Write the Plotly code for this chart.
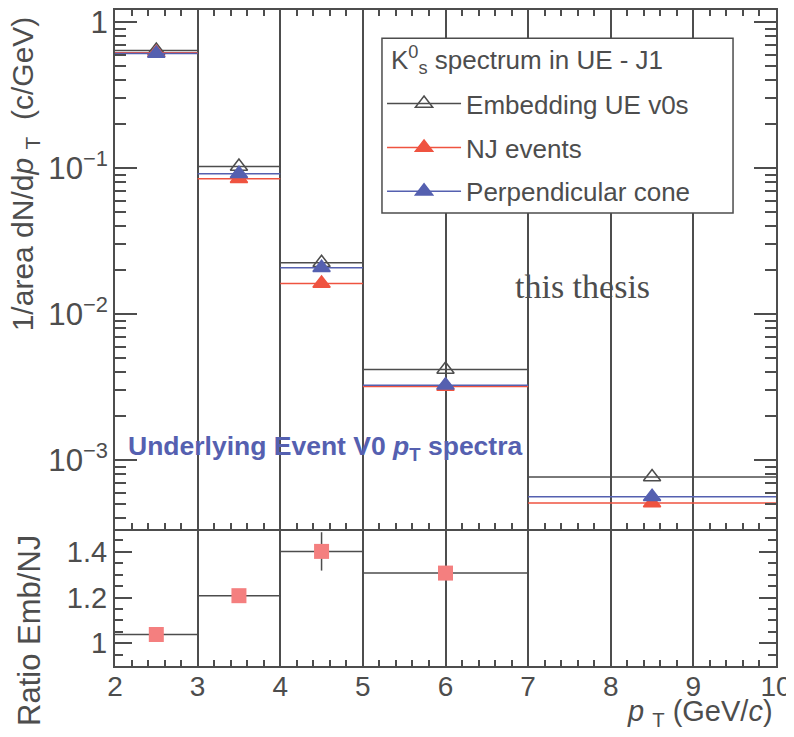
import plotly.graph_objects as go

# ---------------- data ----------------
bin_edges = [2, 3, 4, 5, 7, 10]
emb_ue_v0s = [0.64, 0.1027, 0.0225, 0.00418, 0.000766]
nj_events = [0.617, 0.0845, 0.0162, 0.00319, 0.000508]
perp_cone = [0.61, 0.0916, 0.0208, 0.00326, 0.000561]
ratio_emb_nj = [1.038, 1.208, 1.402, 1.307, None]   # last bin lies above the shown range
ratio_err = [0.01, 0.015, 0.084, 0.03, 0.0]
x_ticks = [2, 3, 4, 5, 6, 7, 8, 9, 10]
series_names = ["Embedding UE v0s", "NJ events", "Perpendicular cone"]
legend_header = "K<sup>0</sup><sub>s</sub> spectrum in UE - J1"

centers = [(a + b) / 2 for a, b in zip(bin_edges[:-1], bin_edges[1:])]
halfw = [(b - a) / 2 for a, b in zip(bin_edges[:-1], bin_edges[1:])]

AX = "#4d4d4d"
RED = "#ef5340"
BLUE = "#5560b0"
SALMON = "#f47f7f"
FONT = "Liberation Sans"

fig = go.Figure()

series = [
    (series_names[0], emb_ue_v0s, AX, "triangle-up-open"),
    (series_names[1], nj_events, RED, "triangle-up"),
    (series_names[2], perp_cone, BLUE, "triangle-up"),
]
for name, vals, col, sym in series:
    fig.add_trace(go.Scatter(
        x=centers, y=vals, mode="markers", showlegend=False,
        marker=dict(symbol=sym, size=15, color=col, line=dict(color=col, width=1.5)),
        error_x=dict(type="data", array=halfw, color=col, thickness=1.5, width=0),
        xaxis="x", yaxis="y"))
for i, (name, vals, col, sym) in enumerate(series):
    fig.add_trace(go.Scatter(
        x=[None], y=[None], mode="lines+markers", name=name, legendgroup=str(i),
        marker=dict(symbol=sym, size=15, color=col, line=dict(color=col, width=1.5)),
        line=dict(color=col, width=1.5), xaxis="x", yaxis="y"))

fig.add_trace(go.Scatter(
    x=centers, y=ratio_emb_nj, mode="markers", showlegend=False,
    marker=dict(symbol="square", size=15, color=SALMON),
    error_x=dict(type="data", array=halfw, color=AX, thickness=1.5, width=0),
    error_y=dict(type="data", array=ratio_err, color=AX, thickness=1.5, width=0),
    xaxis="x2", yaxis="y2"))

split = 0.2088
common_x = dict(range=[2, 10], tickvals=x_ticks, ticks="inside", ticklen=10, tickwidth=1.5,
                tickcolor=AX, showline=True, linecolor=AX, linewidth=2, automargin=False,
                showgrid=True, gridcolor=AX, gridwidth=1.5, zeroline=False,
                minor=dict(ticks="inside", ticklen=6, dtick=0.2, tickcolor=AX, tickwidth=1.5,
                           showgrid=False))

fig.update_layout(
    width=786, height=720,
    margin=dict(l=107, r=18, t=2, b=62),
    paper_bgcolor="white", plot_bgcolor="white",
    font=dict(family=FONT, color=AX),
    xaxis=dict(**common_x, anchor="y", domain=[0, 1], showticklabels=False, mirror="ticks"),
    yaxis=dict(type="log", range=[-3.472, 0.083], domain=[split, 1], anchor="x",
               dtick=1, exponentformat="power", ticks="inside", ticklen=22, tickwidth=1.5,
               tickcolor=AX, showline=True, linecolor=AX, linewidth=2, mirror="ticks",
               showgrid=False, zeroline=False, tickfont=dict(size=25, color=AX),
               automargin=False, ticklabeloverflow="allow",
               minor=dict(ticks="inside", ticklen=11, dtick="D1", tickcolor=AX, tickwidth=1.5)),
    xaxis2=dict(**common_x, anchor="y2", domain=[0, 1], mirror=False,
                ticklabelposition="outside", ticklabelstandoff=-6,
                ticklabeloverflow="allow", tickfont=dict(size=28, color=AX)),
    yaxis2=dict(range=[0.9, 1.5], domain=[0, split], anchor="x2", tick0=0, dtick=0.2,
                ticks="inside", ticklen=17, tickwidth=1.5, tickcolor=AX, showline=True,
                linecolor=AX, linewidth=2, mirror="ticks", showgrid=False, zeroline=False,
                tickfont=dict(size=29, color=AX), automargin=False, ticklabeloverflow="allow",
                minor=dict(ticks="inside", ticklen=8, dtick=0.05, tick0=0, tickcolor=AX,
                           tickwidth=1.5)),
    legend=dict(x=0.404, y=0.893, xanchor="left", yanchor="top", bgcolor="rgba(0,0,0,0)",
                borderwidth=0, itemwidth=74, tracegroupgap=7,
                font=dict(family=FONT, size=26, color=AX)),
    shapes=[
        dict(type="rect", xref="paper", yref="paper", x0=0.4039, x1=0.935, y0=0.6905,
             y1=0.957, line=dict(color=AX, width=1.5), fillcolor="white", layer="above"),
    ],
    annotations=[
        dict(text=legend_header, xref="paper", yref="paper", x=0.4145, y=0.9238,
             showarrow=False, xanchor="left", yanchor="middle",
             font=dict(family=FONT, size=26, color=AX)),
        dict(text="1/area dN/d<i>p</i> <sub>T</sub>  (c/GeV)", textangle=-90,
             xref="paper", yref="paper", x=-0.1372, y=0.75, showarrow=False,
             xanchor="center", yanchor="middle", font=dict(size=30, color=AX)),
        dict(text="Ratio Emb/NJ", textangle=-90, xref="paper", yref="paper",
             x=-0.1286, y=0.055, showarrow=False, xanchor="center", yanchor="middle",
             font=dict(size=31, color=AX)),
        dict(text="<i>p</i> <sub>T</sub> (GeV/<i>c</i>)", xref="paper", yref="paper",
             x=0.9985, y=-0.0716, showarrow=False, xanchor="right", yanchor="middle",
             font=dict(size=29, color=AX)),
        dict(text="this thesis", xref="paper", yref="paper", x=0.708, y=0.578,
             showarrow=False, xanchor="center", yanchor="middle",
             font=dict(family="Liberation Serif", size=34, color=AX)),
        dict(text="<b>Underlying Event V0 <i>p</i><sub>T</sub> spectra</b>", xref="paper",
             yref="paper", x=0.017, y=0.332, showarrow=False, xanchor="left",
             yanchor="middle", font=dict(size=26.5, color=BLUE)),
    ],
)

fig.write_html("out.html")
